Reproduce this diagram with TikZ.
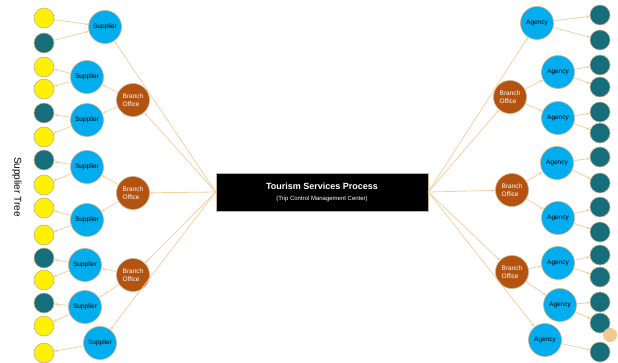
\documentclass[tikz,border=0pt]{standalone}
\usepackage{fontspec}
\setmainfont{Liberation Sans}
\usetikzlibrary{arrows.meta}
\usepackage{xcolor}
\definecolor{peach}{HTML}{F4CFA2}
\definecolor{rim}{HTML}{C8B08A}
\definecolor{sky}{HTML}{00AEEF}
\definecolor{teal}{HTML}{176E7B}
\definecolor{rust}{HTML}{B4520F}
\definecolor{sand}{HTML}{F0C890}

\begin{document}
\begin{tikzpicture}[x=1pt, y=-1pt,
    leaf/.style={circle, draw=rim, line width=0.6pt, minimum size=20pt, inner sep=0pt},
    yel/.style={leaf, fill=yellow},
    tea/.style={leaf, fill=teal},
    unit/.style={circle, draw=rim, line width=0.6pt, minimum size=33pt, inner sep=0pt, fill=sky, font=\fontsize{6.5}{7}\selectfont},
    office/.style={circle, draw=rim, line width=0.6pt, minimum size=33pt, inner sep=0pt, fill=rust, text=white, align=left, font=\fontsize{6.5}{7.5}\selectfont},
    link/.style={draw=peach, line width=0.8pt, -{Stealth[length=3.5pt, width=3pt]}}]
    \useasboundingbox (0,0) rectangle (618,362);

    % centre
    \node[fill=black, draw=rim, line width=0.6pt, minimum width=212pt, minimum height=38pt, inner sep=0pt, text=white, align=center] (box) at (322,192)
        {{\fontsize{9}{10}\selectfont\bfseries Tourism Services Process}\\[-1pt]{\fontsize{6}{6.5}\selectfont (Trip Control Management Center)}};
    \node[rotate=-90, font=\fontsize{10}{11}\selectfont] (tree) at (17,187) {Supplier Tree};

    % left side
    \node[unit] (s1) at (105,27) {Supplier};
    \node[unit] (s2) at (87,77) {Supplier};
    \node[unit] (s3) at (87,120) {Supplier};
    \node[unit] (s4) at (87,167) {Supplier};
    \node[unit] (s5) at (87,220) {Supplier};
    \node[unit] (s6) at (85,265) {Supplier};
    \node[unit] (s7) at (85,307) {Supplier};
    \node[unit] (s8) at (100,343) {Supplier};
    \node[office] (b1) at (133,100) {Branch\\Office};
    \node[office] (b2) at (133,193) {Branch\\Office};
    \node[office] (b3) at (133,275) {Branch\\Office};

    \node[yel] (l1) at (44,18) {};
    \node[tea] (l2) at (44,43) {};
    \node[yel] (l3) at (44,67) {};
    \node[yel] (l4) at (44,89) {};
    \node[tea] (l5) at (44,113) {};
    \node[yel] (l6) at (44,137) {};
    \node[tea] (l7) at (44,160) {};
    \node[yel] (l8) at (44,185) {};
    \node[yel] (l9) at (44,208) {};
    \node[yel] (l10) at (44,235) {};
    \node[tea] (l11) at (44,258) {};
    \node[yel] (l12) at (44,280) {};
    \node[tea] (l13) at (44,303) {};
    \node[yel] (l14) at (44,326) {};
    \node[yel] (l15) at (44,353) {};

    % right side
    \node[unit] (a1) at (537,23) {Agency};
    \node[unit] (a2) at (558,72) {Agency};
    \node[unit] (a3) at (558,118) {Agency};
    \node[unit] (a4) at (557,163) {Agency};
    \node[unit] (a5) at (558,218) {Agency};
    \node[unit] (a6) at (558,263) {Agency};
    \node[unit] (a7) at (560,305) {Agency};
    \node[unit] (a8) at (545,340) {Agency};
    \node[office] (r1) at (510,97) {Branch\\Office};
    \node[office] (r2) at (512,190) {Branch\\Office};
    \node[office] (r3) at (512,272) {Branch\\Office};

    \node[tea] (t1) at (600,15) {};
    \node[tea] (t2) at (600,40) {};
    \node[tea] (t3) at (600,65) {};
    \node[tea] (t4) at (600,87) {};
    \node[tea] (t5) at (600,112) {};
    \node[tea] (t6) at (600,133) {};
    \node[tea] (t7) at (600,157) {};
    \node[tea] (t8) at (600,183) {};
    \node[tea] (t9) at (600,207) {};
    \node[tea] (t10) at (600,232) {};
    \node[tea] (t11) at (600,255) {};
    \node[tea] (t12) at (600,277) {};
    \node[tea] (t13) at (600,302) {};
    \node[tea] (t14) at (600,323) {};
    \node[tea] (t15) at (600,352) {};
    \node[circle, fill=sand, minimum size=14pt, inner sep=0pt] (dot) at (610,335) {};

    % links
    \draw[link] (box.west) -- (s1);
    \draw[link] (box.west) -- (b1);
    \draw[link] (box.west) -- (b2);
    \draw[link] (box.west) -- (b3);
    \draw[link] (box.west) -- (s8);
    \draw[link] (b1) -- (s2);
    \draw[link] (b1) -- (s3);
    \draw[link] (b2) -- (s4);
    \draw[link] (b2) -- (s5);
    \draw[link] (b3) -- (s6);
    \draw[link] (b3) -- (s7);
    \draw[link] (l1) -- (s1);
    \draw[link] (l2) -- (s1);
    \draw[link] (s2) -- (l3);
    \draw[link] (s2) -- (l4);
    \draw[link] (s3) -- (l5);
    \draw[link] (s3) -- (l6);
    \draw[link] (s4) -- (l7);
    \draw[link] (s4) -- (l8);
    \draw[link] (s5) -- (l9);
    \draw[link] (s5) -- (l10);
    \draw[link] (s6) -- (l11);
    \draw[link] (s6) -- (l12);
    \draw[link] (s7) -- (l13);
    \draw[link] (s7) -- (l14);
    \draw[link] (s8) -- (l15);

    \draw[link] (box.east) -- (a1);
    \draw[link] (box.east) -- (r1);
    \draw[link] (box.east) -- (r2);
    \draw[link] (box.east) -- (r3);
    \draw[link] (box.east) -- (a8);
    \draw[link] (r1) -- (a2);
    \draw[link] (r1) -- (a3);
    \draw[link] (r2) -- (a4);
    \draw[link] (r2) -- (a5);
    \draw[link] (r3) -- (a6);
    \draw[link] (r3) -- (a7);
    \draw[link] (a1) -- (t1);
    \draw[link] (a1) -- (t2);
    \draw[link] (a2) -- (t3);
    \draw[link] (a2) -- (t4);
    \draw[link] (a3) -- (t5);
    \draw[link] (a3) -- (t6);
    \draw[link] (a4) -- (t7);
    \draw[link] (a4) -- (t8);
    \draw[link] (a5) -- (t9);
    \draw[link] (a5) -- (t10);
    \draw[link] (a6) -- (t11);
    \draw[link] (a6) -- (t12);
    \draw[link] (a7) -- (t13);
    \draw[link] (a7) -- (t14);
    \draw[link] (a8) -- (t15);
\end{tikzpicture}
\end{document}
